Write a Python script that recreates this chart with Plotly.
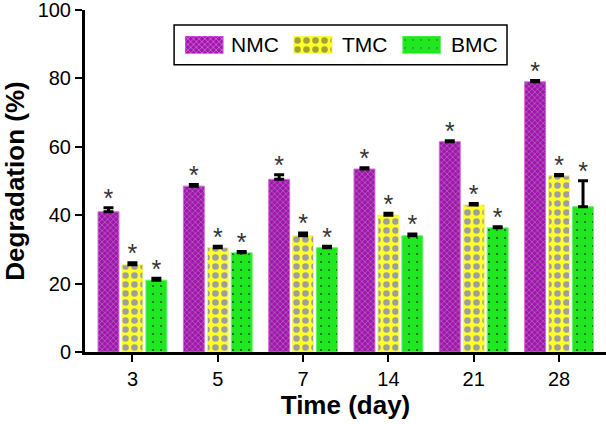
import plotly.graph_objects as go

days = ["3", "5", "7", "14", "21", "28"]
series_names = ["NMC", "TMC", "BMC"]
nmc = [41.0, 48.5, 50.5, 53.5, 61.5, 79.0]
nmc_err = [1.2, 0.5, 1.3, 0.4, 0.3, 0.4]
tmc = [25.5, 30.5, 34.0, 40.0, 43.0, 51.5]
tmc_err = [0.6, 0.4, 0.8, 0.6, 0.4, 0.4]
bmc = [21.0, 29.0, 30.5, 34.0, 36.3, 42.5]
bmc_err = [0.6, 0.4, 0.4, 0.5, 0.3, 7.6]
y_ticks = [0, 20, 40, 60, 80, 100]

STAR_GAP = 2.0  # gap (in % units) between the error-bar top and the significance star

FONT = "Arial, Liberation Sans, sans-serif"

styles = {
    "NMC": dict(color="#A512B2", line="#D36AD9",
                pattern=dict(shape="x", fgcolor="#A88AAE", size=4, solidity=0.3, fgopacity=0.9)),
    "TMC": dict(color="#FFFF2A", line="#F5F56A",
                pattern=dict(shape=".", fgcolor="#9E9E9E", size=9, solidity=0.42, fgopacity=1)),
    "BMC": dict(color="#1FE81F", line="#6AF06A",
                pattern=dict(shape=".", fgcolor="#0B4F0B", size=8, solidity=0.045, fgopacity=1)),
}

data = {"NMC": (nmc, nmc_err), "TMC": (tmc, tmc_err), "BMC": (bmc, bmc_err)}

fig = go.Figure()
for name in series_names:
    vals, errs = data[name]
    st = styles[name]
    fig.add_trace(go.Bar(
        name=name, x=days, y=vals, offsetgroup=name, showlegend=False,
        marker=dict(color=st["color"], line=dict(color=st["line"], width=1),
                    pattern=dict(fillmode="overlay", **st["pattern"])),
        error_y=dict(type="data", array=errs, arrayminus=[0] * len(errs), symmetric=False,
                     color="black", thickness=3, width=5),
    ))
for name in series_names:
    vals, errs = data[name]
    fig.add_trace(go.Scatter(
        x=days, y=[v + e + STAR_GAP for v, e in zip(vals, errs)], offsetgroup=name,
        mode="text", text=["*"] * len(vals), textposition="middle center",
        textfont=dict(family=FONT, size=25, color="#333333"),
        showlegend=False, hoverinfo="skip", cliponaxis=False,
    ))

# Legend drawn as a small overlay axis so the swatches can be wide patterned rectangles
legend_pos = [0, 1, 2]
fig.add_trace(go.Bar(
    x=legend_pos, y=[1, 1, 1], xaxis="x2", yaxis="y2", width=0.35,
    marker=dict(color=[styles[n]["color"] for n in series_names],
                line=dict(color=[styles[n]["line"] for n in series_names], width=1),
                pattern=dict(fillmode="overlay",
                             shape=[styles[n]["pattern"]["shape"] for n in series_names],
                             fgcolor=[styles[n]["pattern"]["fgcolor"] for n in series_names],
                             size=[styles[n]["pattern"]["size"] for n in series_names],
                             solidity=[styles[n]["pattern"]["solidity"] for n in series_names])),
    showlegend=False, hoverinfo="skip",
))
label_x = [0.276, 0.489, 0.699]
for name, lx in zip(series_names, label_x):
    fig.add_annotation(xref="paper", yref="paper", x=lx, y=0.898, xanchor="left", yanchor="middle",
                       text=name, showarrow=False,
                       font=dict(family=FONT, size=21, color="black"))
fig.add_shape(type="rect", xref="paper", yref="paper", x0=0.171, x1=0.810, y0=0.840, y1=0.956,
              line=dict(color="black", width=1.5), fillcolor="white", layer="below")

fig.update_layout(
    width=606, height=424,
    margin=dict(l=85, r=0, t=10, b=72),
    paper_bgcolor="white", plot_bgcolor="white",
    barmode="group", bargap=0.158, bargroupgap=0.125,
    scattermode="group",
    font=dict(family=FONT, size=20, color="black"),
    showlegend=False,
    xaxis=dict(
        type="category", range=[-0.556, 5.55], automargin=False,
        showline=True, linecolor="black", linewidth=3,
        ticks="outside", ticklen=7, tickwidth=2, tickcolor="black",
        tickfont=dict(family=FONT, size=20),
        title=dict(text="<b>Time (day)</b>", font=dict(family=FONT, size=26), standoff=7),
        showgrid=False, zeroline=False, fixedrange=True,
    ),
    yaxis=dict(
        range=[0, 100], tickvals=y_ticks, automargin=False, ticklabeloverflow="allow",
        showline=True, linecolor="black", linewidth=3,
        ticks="outside", ticklen=7, tickwidth=2, tickcolor="black",
        tickfont=dict(family=FONT, size=20),
        title=dict(text="<b>Degradation (%)</b>", font=dict(family=FONT, size=26), standoff=20),
        showgrid=False, zeroline=False, fixedrange=True,
    ),
    xaxis2=dict(domain=[0.192, 0.683], range=[-0.175, 2.175], anchor="y2",
                visible=False, fixedrange=True),
    yaxis2=dict(domain=[0.872, 0.924], range=[0, 1], anchor="x2",
                visible=False, fixedrange=True),
)

fig.write_html("out.html", config={"displayModeBar": False},
               post_script="document.body.style.margin='0';")
